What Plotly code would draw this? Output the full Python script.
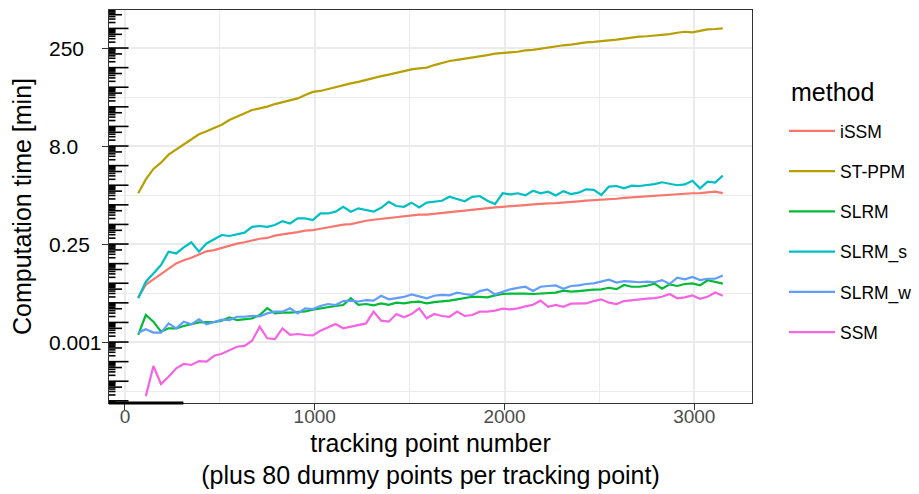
import numpy as np
import plotly.graph_objects as go

# ---------------- data (y values, in log2 units) ----------------
tracking_points = [
    70, 110, 150, 190, 230, 270, 310, 350, 390, 430,
    470, 510, 550, 590, 630, 670, 710, 750, 790, 830,
    870, 910, 950, 990, 1030, 1070, 1110, 1150, 1190, 1230,
    1270, 1310, 1350, 1390, 1430, 1470, 1510, 1550, 1590, 1630,
    1670, 1710, 1750, 1790, 1830, 1870, 1910, 1950, 1990, 2030,
    2070, 2110, 2150, 2190, 2230, 2270, 2310, 2350, 2390, 2430,
    2470, 2510, 2550, 2590, 2630, 2670, 2710, 2750, 2790, 2830,
    2870, 2910, 2950, 2990, 3030, 3070, 3110, 3150,
]

issm_log2 = [
    -4.72, -4.07, -3.80, -3.53, -3.22, -2.99, -2.83, -2.70, -2.53, -2.37,
    -2.31, -2.20, -2.12, -1.98, -1.91, -1.80, -1.73, -1.69, -1.57, -1.51,
    -1.46, -1.39, -1.32, -1.29, -1.22, -1.15, -1.08, -1.01, -0.98, -0.89,
    -0.81, -0.76, -0.72, -0.69, -0.64, -0.59, -0.55, -0.50, -0.50, -0.45,
    -0.42, -0.37, -0.33, -0.30, -0.25, -0.21, -0.16, -0.13, -0.10, -0.06,
    -0.04, -0.01, 0.02, 0.06, 0.07, 0.09, 0.13, 0.16, 0.18, 0.21,
    0.23, 0.26, 0.30, 0.31, 0.35, 0.38, 0.40, 0.43, 0.47, 0.48,
    0.50, 0.53, 0.55, 0.59, 0.60, 0.62, 0.67, 0.60,
]

stppm_log2 = [
    0.59, 1.30, 1.83, 2.15, 2.56, 2.83, 3.10, 3.34, 3.60, 3.75,
    3.90, 4.09, 4.33, 4.50, 4.65, 4.84, 4.92, 5.01, 5.14, 5.23,
    5.33, 5.43, 5.60, 5.76, 5.81, 5.91, 6.01, 6.11, 6.20, 6.27,
    6.37, 6.49, 6.57, 6.64, 6.74, 6.83, 6.91, 6.96, 7.00, 7.13,
    7.25, 7.34, 7.40, 7.46, 7.49, 7.57, 7.64, 7.71, 7.76, 7.78,
    7.81, 7.88, 7.91, 7.97, 8.03, 8.09, 8.14, 8.17, 8.24, 8.29,
    8.31, 8.34, 8.37, 8.43, 8.48, 8.54, 8.58, 8.60, 8.63, 8.68,
    8.71, 8.78, 8.83, 8.80, 8.87, 8.95, 8.97, 9.00,
]

slrm_log2 = [
    -6.64, -5.62, -5.96, -6.47, -6.30, -6.30, -6.18, -6.08, -6.00, -5.98,
    -5.98, -5.91, -5.74, -5.88, -5.84, -5.79, -5.62, -5.27, -5.54, -5.50,
    -5.50, -5.47, -5.44, -5.35, -5.28, -5.23, -5.16, -5.11, -4.76, -5.10,
    -5.06, -5.13, -5.03, -5.10, -4.99, -5.03, -4.96, -4.94, -5.03, -4.96,
    -4.93, -4.89, -4.82, -4.76, -4.69, -4.70, -4.72, -4.62, -4.55, -4.53,
    -4.52, -4.53, -4.55, -4.53, -4.52, -4.48, -4.38, -4.43, -4.40, -4.35,
    -4.33, -4.31, -4.23, -4.30, -4.09, -4.18, -4.18, -4.13, -4.02, -4.28,
    -4.06, -4.14, -4.04, -4.01, -4.11, -3.85, -3.94, -4.02,
]

slrm_s_log2 = [
    -4.77, -3.92, -3.50, -3.07, -2.39, -2.48, -2.17, -1.91, -2.39, -1.97,
    -1.76, -1.54, -1.59, -1.49, -1.42, -1.12, -1.08, -1.12, -1.03, -0.83,
    -0.95, -0.69, -0.69, -0.78, -0.44, -0.44, -0.35, -0.10, -0.35, -0.18,
    -0.27, -0.35, -0.15, 0.16, -0.06, -0.10, 0.11, -0.13, 0.11, 0.16,
    0.21, 0.41, 0.28, 0.18, 0.41, 0.45, 0.21, 0.04, 0.59, 0.53,
    0.59, 0.48, 0.72, 0.59, 0.67, 0.48, 0.70, 0.55, 0.62, 0.79,
    0.76, 0.50, 0.93, 0.96, 0.84, 0.98, 0.96, 1.01, 1.06, 1.15,
    1.06, 1.00, 1.04, 1.23, 0.84, 1.18, 1.13, 1.49,
]

slrm_w_log2 = [
    -6.52, -6.35, -6.52, -6.52, -6.05, -6.30, -5.96, -6.10, -5.84, -6.10,
    -5.98, -5.86, -5.88, -5.71, -5.71, -5.66, -5.69, -5.54, -5.45, -5.45,
    -5.28, -5.54, -5.28, -5.32, -5.16, -5.06, -5.11, -4.91, -4.89, -4.93,
    -4.86, -4.89, -4.64, -4.82, -4.76, -4.70, -4.57, -4.69, -4.77, -4.64,
    -4.59, -4.62, -4.48, -4.55, -4.60, -4.40, -4.31, -4.57, -4.43, -4.31,
    -4.24, -4.18, -4.40, -4.18, -4.14, -4.11, -4.28, -4.14, -4.11, -4.04,
    -4.01, -3.92, -3.82, -3.97, -3.89, -3.92, -3.95, -3.92, -3.95, -3.84,
    -4.04, -3.72, -3.80, -3.68, -3.84, -3.77, -3.77, -3.60,
]

ssm_log2 = [
    None, -9.76, -8.22, -9.14, -8.77, -8.34, -8.12, -8.17, -7.97, -8.00,
    -7.70, -7.60, -7.44, -7.24, -7.20, -6.93, -6.22, -6.81, -6.85, -6.30,
    -6.63, -6.59, -6.64, -6.66, -6.42, -6.25, -6.08, -6.30, -6.22, -6.12,
    -6.05, -5.45, -5.91, -5.96, -5.57, -5.74, -5.57, -5.28, -5.79, -5.57,
    -5.67, -5.71, -5.45, -5.67, -5.62, -5.45, -5.45, -5.40, -5.30, -5.33,
    -5.28, -5.18, -5.10, -4.89, -5.20, -5.11, -5.20, -5.04, -5.03, -5.03,
    -4.91, -4.82, -4.99, -5.06, -4.91, -4.86, -4.82, -4.79, -4.76, -4.69,
    -4.55, -4.77, -4.72, -4.62, -4.79, -4.69, -4.47, -4.64,
]

methods = ["iSSM", "ST-PPM", "SLRM", "SLRM_s", "SLRM_w", "SSM"]
method_values = [issm_log2, stppm_log2, slrm_log2, slrm_s_log2, slrm_w_log2, ssm_log2]
method_colors = ["#F8766D", "#B79F00", "#00BA38", "#00BFC4", "#619CFF", "#F564E3"]

# axis ticks (positions on the log2 scale) and their printed labels
y_tick_log2 = [-7, -2, 3, 8]
y_tick_labels = ["0.001", "0.25", "8.0", "250"]
y_minor_log2 = [-9.5, -4.5, 0.5, 5.5]
x_tick_vals = [0, 1000, 2000, 3000]
x_minor_vals = [500, 1500, 2500]

# ---------------- figure ----------------
FONT = "Liberation Sans, Arial, Helvetica, sans-serif"
Y_LO, Y_HI = -10.11, 9.94          # panel limits (log2 units)
X_LO, X_HI = -84, 3304
PAGE_OFFSET = 8                     # default body margin of the html page
FIG_W, FIG_H = 919 - PAGE_OFFSET, 494 - PAGE_OFFSET
PLOT_W, PLOT_H = 643, 393           # panel size in px
PANEL_L, PANEL_T = 109, 10          # panel position on the page
M_L, M_T = PANEL_L - PAGE_OFFSET, PANEL_T - PAGE_OFFSET

fig = go.Figure()
for name, vals, col in zip(methods, method_values, method_colors):
    fig.add_trace(go.Scatter(
        x=tracking_points,
        y=2.0 ** np.array(vals, dtype=float),
        mode="lines",
        name=name,
        legendgroup=name,
        line=dict(color=col, width=2.2),
    ))

# log ticks along the left edge (annotation_logticks style)
shapes = []
for n in range(-11, 11):
    for k in range(1, 10):
        t = n + np.log10(k)
        if t < Y_LO or t > Y_HI:
            continue
        length = 19.5 if k == 1 else (13.0 if k == 5 else 6.5)
        shapes.append(dict(
            type="line", xref="paper", yref="y",
            x0=0, x1=length / PLOT_W, y0=2.0 ** t, y1=2.0 ** t,
            line=dict(color="black", width=1.6), layer="above",
        ))
# short dark strip along the bottom edge
shapes.append(dict(
    type="line", xref="x", yref="paper", x0=X_LO, x1=308, y0=0, y1=0,
    line=dict(color="black", width=3), layer="above",
))


def px_x(px):
    """page x pixel -> paper fraction"""
    return (px - PANEL_L) / PLOT_W


def px_y(py):
    """page y pixel -> paper fraction"""
    return (PANEL_T + PLOT_H - py) / PLOT_H


# left-aligned y tick labels
annotations = []
for tv, tl in zip(y_tick_log2, y_tick_labels):
    annotations.append(dict(
        text=tl, xref="paper", yref="y", x=px_x(47), xanchor="left", align="left",
        y=np.log10(2.0 ** tv), yanchor="middle", showarrow=False,
        font=dict(size=21, color="black", family=FONT),
    ))
# legend heading
annotations.append(dict(
    text="method", xref="paper", yref="paper", x=px_x(789), xanchor="left",
    y=px_y(92), yanchor="middle", showarrow=False,
    font=dict(size=25, color="black", family=FONT),
))

fig.update_layout(
    width=FIG_W, height=FIG_H,
    margin=dict(l=M_L, r=FIG_W - M_L - PLOT_W, t=M_T, b=FIG_H - M_T - PLOT_H,
                autoexpand=False),
    paper_bgcolor="white", plot_bgcolor="white",
    font=dict(family=FONT, color="black"),
    shapes=shapes,
    annotations=annotations,
    showlegend=True,
    legend=dict(
        x=px_x(784), xanchor="left",
        y=px_y(113), yanchor="top",
        font=dict(size=17.5, color="black"),
        tracegroupgap=14.5,
        itemwidth=46,
        bgcolor="rgba(0,0,0,0)",
    ),
    xaxis=dict(
        automargin=False,
        range=[X_LO, X_HI],
        tickmode="array", tickvals=x_tick_vals,
        ticks="outside", ticklen=6, tickwidth=1.3, tickcolor="#333333",
        tickfont=dict(size=19, color="#4D4D4D"),
        ticklabelstandoff=-10,
        showline=True, linecolor="#333333", linewidth=1.3, mirror=True,
        showgrid=True, gridcolor="#EBEBEB", gridwidth=1.6,
        minor=dict(tickmode="array", tickvals=x_minor_vals, showgrid=True,
                   gridcolor="#EBEBEB", gridwidth=0.9, ticks=""),
        zeroline=False,
        title=dict(text="tracking point number<br>(plus 80 dummy points per tracking point)",
                   font=dict(size=25, color="black"), standoff=8),
    ),
    yaxis=dict(
        automargin=False,
        type="log",
        range=[Y_LO * np.log10(2), Y_HI * np.log10(2)],
        tickmode="array", tickvals=[2.0 ** v for v in y_tick_log2],
        ticktext=y_tick_labels, showticklabels=False,
        ticks="outside", ticklen=6, tickwidth=1.3, tickcolor="#333333",
        showline=True, linecolor="#333333", linewidth=1.3, mirror=True,
        showgrid=True, gridcolor="#EBEBEB", gridwidth=1.6,
        minor=dict(tickmode="array", tickvals=[2.0 ** v for v in y_minor_log2],
                   showgrid=True, gridcolor="#EBEBEB", gridwidth=0.9, ticks=""),
        zeroline=False,
        title=dict(text="Computation time [min]", font=dict(size=25, color="black"),
                   standoff=63),
    ),
)

fig.write_html("out.html")
